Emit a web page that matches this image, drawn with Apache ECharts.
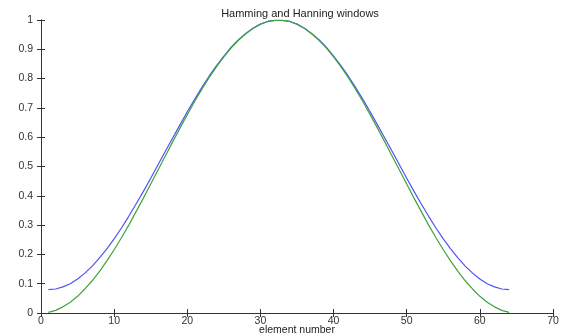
<!DOCTYPE html>
<html>
<head>
<meta charset="utf-8">
<script src="https://cdn.jsdelivr.net/npm/echarts@6/dist/echarts.min.js"></script>
<style>
  html, body { margin: 0; padding: 0; background: #fff; }
  #chart { width: 564px; height: 336px; }
</style>
</head>
<body>
<div id="chart"></div>
<script>
// element numbers run 1..64; first half of each window,
// second half mirrors it (both windows are symmetric)
const hammingHalf = [
  0.080, 0.082, 0.089, 0.100, 0.116, 0.136, 0.160, 0.188,
  0.219, 0.253, 0.290, 0.330, 0.372, 0.415, 0.460, 0.506,
  0.552, 0.597, 0.642, 0.687, 0.729, 0.770, 0.809, 0.844,
  0.877, 0.907, 0.933, 0.954, 0.972, 0.986, 0.995, 0.999
];
const hanningHalf = [
  0.002, 0.009, 0.021, 0.037, 0.057, 0.082, 0.110, 0.142,
  0.178, 0.216, 0.257, 0.300, 0.346, 0.392, 0.440, 0.488,
  0.536, 0.584, 0.631, 0.677, 0.722, 0.764, 0.804, 0.841,
  0.874, 0.905, 0.931, 0.953, 0.972, 0.986, 0.995, 0.999
];
const hamming = hammingHalf.concat(hammingHalf.slice().reverse());
const hanning = hanningHalf.concat(hanningHalf.slice().reverse());

const INK = '#333';
const BLUE = '#5050ff';
const GREEN = '#3ea33e';

const toPoints = (arr) => arr.map((v, i) => [i + 1, v]);

const frameAxis = {
  axisLine: { show: true, lineStyle: { color: INK, width: 1 } },
  axisTick: { show: true, inside: true, length: 4, lineStyle: { color: INK } },
  splitLine: { show: false },
};

const chart = echarts.init(document.getElementById('chart'));
chart.setOption({
  animation: false,
  title: {
    text: 'Hamming and Hanning windows',
    left: 295, top: 3, textAlign: 'center',
    textStyle: { fontFamily: 'Liberation Sans', fontSize: 11, fontWeight: 'normal', color: '#222' },
  },
  // fixed plot box; don't let v6 shrink it to fit the axis name
  grid: { left: 41, right: 11, top: 20, bottom: 23, outerBoundsMode: 'none', containLabel: false },
  xAxis: [
    {
      type: 'value', min: 0, max: 70, interval: 10, position: 'bottom',
      ...frameAxis,
      axisLabel: { color: INK, fontFamily: 'Liberation Sans', fontSize: 10.5, margin: 3 },
      name: 'element number', nameLocation: 'middle', nameGap: 17, nameMoveOverlap: false,
      nameTextStyle: { color: '#222', fontFamily: 'Liberation Sans', fontSize: 10.5, verticalAlign: 'middle' },
    },
    {
      type: 'value', min: 0, max: 70, interval: 10, position: 'top',
      ...frameAxis, axisLabel: { show: false },
    },
  ],
  yAxis: [
    {
      type: 'value', min: 0, max: 1, interval: 0.1, position: 'left',
      ...frameAxis,
      axisLabel: {
        color: INK, fontFamily: 'Liberation Sans', fontSize: 10.5, margin: 8,
        formatter: (v) => String(Math.round(v * 10) / 10),
      },
    },
    {
      type: 'value', min: 0, max: 1, interval: 0.1, position: 'right',
      ...frameAxis, axisLabel: { show: false },
    },
  ],
  series: [
    {
      name: 'Hamming', type: 'line', data: toPoints(hamming),
      showSymbol: false, smooth: false,
      lineStyle: { color: BLUE, width: 1.2 }, itemStyle: { color: BLUE },
    },
    {
      name: 'Hanning', type: 'line', data: toPoints(hanning),
      showSymbol: false, smooth: false,
      lineStyle: { color: GREEN, width: 1.2 }, itemStyle: { color: GREEN },
    },
  ],
});
</script>
</body>
</html>
